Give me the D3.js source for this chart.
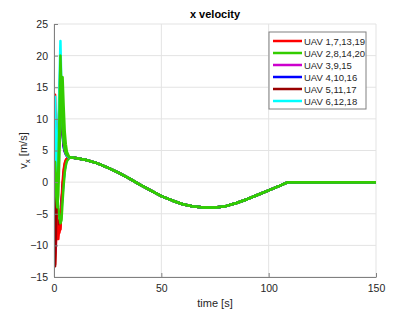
<!DOCTYPE html>
<html>
<head>
<meta charset="utf-8">
<script src="https://cdn.jsdelivr.net/npm/d3@7"></script>
<style>
  body { margin: 0; background: #fff; }
  text { font-family: "Liberation Sans", Arial, sans-serif; }
</style>
</head>
<body>
<div id="wrapper"></div>
<script>
// x velocity per UAV group
const groups = ["UAV 1,7,13,19", "UAV 2,8,14,20", "UAV 3,9,15", "UAV 4,10,16", "UAV 5,11,17", "UAV 6,12,18"];
const groupColors = ["#ff0000", "#33cc00", "#cc00cc", "#0000ff", "#990000", "#00ffff"];

// transient part (0..7 s), one row per plotted line
const transientTime = [0, 0.5, 1, 1.5, 2, 2.5, 3, 3.5, 4, 4.5, 5, 5.5, 6, 7];
const redA = [0, 13.8, 5, -9, -7, -8, -7, -4, -1, 1.5, 2.8, 3.4, 3.7, 3.85];
const redB = [-2, -13, -9, -6, -9, -7, -7.5, -3, 0, 2, 3, 3.5, 3.7, 3.85];
const greenA = [3, 3.2, 0, -3, 2, 10, 20, 14, 9, 6.5, 5.2, 4.6, 4.3, 3.95];
const greenB = [2, 1, -2, -4, -2, 4, 10, 15, 16.6, 12, 8, 6, 4.8, 4.0];
const greenC = [3, 2.5, 1, -2, -4, -5.5, -6.5, -6, -3, -0.5, 1.5, 2.6, 3.3, 3.8];
const magentaA = [-11.5, -8, -3, 0, 5, 12, 19, 13, 8, 6, 5, 4.5, 4.2, 3.9];
const magentaB = [-3, -11, -8, -5, -7, -6, -5, -3, -1, 1, 2.5, 3.2, 3.6, 3.85];
const blueA = [-3, 0.5, -2, 1, 4, 10, 16, 11, 7.5, 5.5, 4.8, 4.4, 4.1, 3.9];
const blueB = [-1, -3, -1, -4, -5, -6, -6, -4, -1.5, 0.5, 2, 3, 3.5, 3.85];
const darkRedA = [0, -13.3, -6, 2, 8, 12, 17.5, 12, 8, 6, 5, 4.5, 4.2, 3.9];
const darkRedB = [5, 2, -4, -6, -5, -7, -6, -3.5, -1, 1, 2.4, 3.2, 3.6, 3.85];
const cyanA = [0, 13.5, 5, 0, 8, 15, 22.3, 14, 9, 6.5, 5.2, 4.6, 4.2, 3.9];
const cyanB = [-2, -1, -3, -4, -5, -5.7, -6, -4.5, -2, 0, 2, 3, 3.5, 3.85];

// common trajectory after consensus (8..150 s)
const commonTime = [8, 10, 15, 20, 25, 30, 35, 40, 45, 50, 55, 60, 65, 70, 75, 80, 85, 90, 95, 100, 105, 109, 150];
const commonVx = [3.9, 3.8, 3.5, 3.0, 2.3, 1.5, 0.6, -0.4, -1.3, -2.2, -2.9, -3.5, -3.85, -4.0, -4.0, -3.8, -3.3, -2.7, -2.0, -1.3, -0.6, 0, 0];

const xTicks = [0, 50, 100, 150];
const yTicks = [-15, -10, -5, 0, 5, 10, 15, 20, 25];

// plotting order: group index + transient values (green drawn last)
const lines = [
    [0, redB], [2, magentaB], [3, blueB], [4, darkRedB], [5, cyanB],
    [0, redA], [1, greenC], [2, magentaA], [3, blueA], [4, darkRedA], [5, cyanA],
    [1, greenB], [1, greenA]
];

const dimension = {
    width: 415,
    height: 312,
    margin: { top: 24, left: 54, bottom: 35, right: 39 }
};
dimension.boundedWidth = dimension.width - dimension.margin.left - dimension.margin.right;
dimension.boundedHeight = dimension.height - dimension.margin.top - dimension.margin.bottom;

const svg = d3.select("#wrapper").append("svg")
    .attr("width", dimension.width)
    .attr("height", dimension.height);

const bounded = svg.append("g")
    .attr("transform", `translate(${dimension.margin.left},${dimension.margin.top})`);

const xScaler = d3.scaleLinear().domain([0, 150]).range([0, dimension.boundedWidth]);
const yScaler = d3.scaleLinear().domain([-15, 25]).range([dimension.boundedHeight, 0]);

// grid
bounded.append("g").selectAll("line").data(xTicks).join("line")
    .attr("x1", d => xScaler(d)).attr("x2", d => xScaler(d))
    .attr("y1", 0).attr("y2", dimension.boundedHeight)
    .attr("stroke", "#e3e3e3").attr("stroke-width", 1);
bounded.append("g").selectAll("line").data(yTicks).join("line")
    .attr("x1", 0).attr("x2", dimension.boundedWidth)
    .attr("y1", d => yScaler(d)).attr("y2", d => yScaler(d))
    .attr("stroke", "#e3e3e3").attr("stroke-width", 1);

// data lines
const lineGenerator = d3.line()
    .x(d => xScaler(d[0]))
    .y(d => yScaler(d[1]));

svg.append("clipPath").attr("id", "clip")
    .append("rect").attr("width", dimension.boundedWidth).attr("height", dimension.boundedHeight + 2).attr("y", -1);

const plot = bounded.append("g").attr("clip-path", "url(#clip)");
lines.forEach(([g, vals]) => {
    const pts = transientTime.map((t, i) => [t, vals[i]])
        .concat(commonTime.map((t, i) => [t, commonVx[i]]));
    plot.append("path")
        .attr("d", lineGenerator(pts))
        .attr("fill", "none")
        .attr("stroke", groupColors[g])
        .attr("stroke-width", 2.5)
        .attr("stroke-linejoin", "round");
});

// axes
const xAxis = d3.axisBottom(xScaler).tickValues(xTicks).tickSizeInner(-4).tickSizeOuter(0).tickPadding(8);
const yAxis = d3.axisLeft(yScaler).tickValues(yTicks).tickSizeInner(-4).tickSizeOuter(0).tickPadding(6);

const gx = bounded.append("g")
    .attr("transform", `translate(0,${dimension.boundedHeight})`)
    .call(xAxis);
const gy = bounded.append("g").call(yAxis);

[gx, gy].forEach(g => {
    g.select(".domain").attr("stroke", "#808080").attr("stroke-width", 1);
    g.selectAll(".tick line").attr("stroke", "#808080");
    g.selectAll(".tick text").attr("fill", "#262626").style("font-size", "10.5px")
        .style("font-family", "'Liberation Sans', Arial, sans-serif");
});

// title and labels
svg.append("text")
    .attr("x", dimension.margin.left + dimension.boundedWidth / 2)
    .attr("y", 18)
    .attr("text-anchor", "middle")
    .style("font-size", "11px").style("font-weight", "bold")
    .attr("fill", "#000")
    .text("x velocity");

svg.append("text")
    .attr("x", dimension.margin.left + dimension.boundedWidth / 2)
    .attr("y", 307)
    .attr("text-anchor", "middle")
    .style("font-size", "11px")
    .attr("fill", "#262626")
    .text("time [s]");

const yl = svg.append("text")
    .attr("transform", `translate(27,${dimension.margin.top + yScaler(5)}) rotate(-90)`)
    .attr("text-anchor", "middle")
    .style("font-size", "11px")
    .attr("fill", "#262626");
yl.append("tspan").text("v");
yl.append("tspan").attr("dy", 3).style("font-size", "8px").text("x");
yl.append("tspan").attr("dy", -3).text(" [m/s]");

// legend
const legend = svg.append("g").attr("transform", "translate(269,32)");
legend.append("rect")
    .attr("width", 97).attr("height", 77)
    .attr("fill", "#fff").attr("stroke", "#808080").attr("stroke-width", 1);
groups.forEach((name, i) => {
    const y = 9 + i * 12;
    legend.append("line")
        .attr("x1", 4).attr("x2", 33).attr("y1", y).attr("y2", y)
        .attr("stroke", groupColors[i]).attr("stroke-width", 2.5);
    legend.append("text")
        .attr("x", 35).attr("y", y + 3.5)
        .style("font-size", "9.5px")
        .attr("fill", "#262626")
        .text(name);
});
</script>
</body>
</html>
